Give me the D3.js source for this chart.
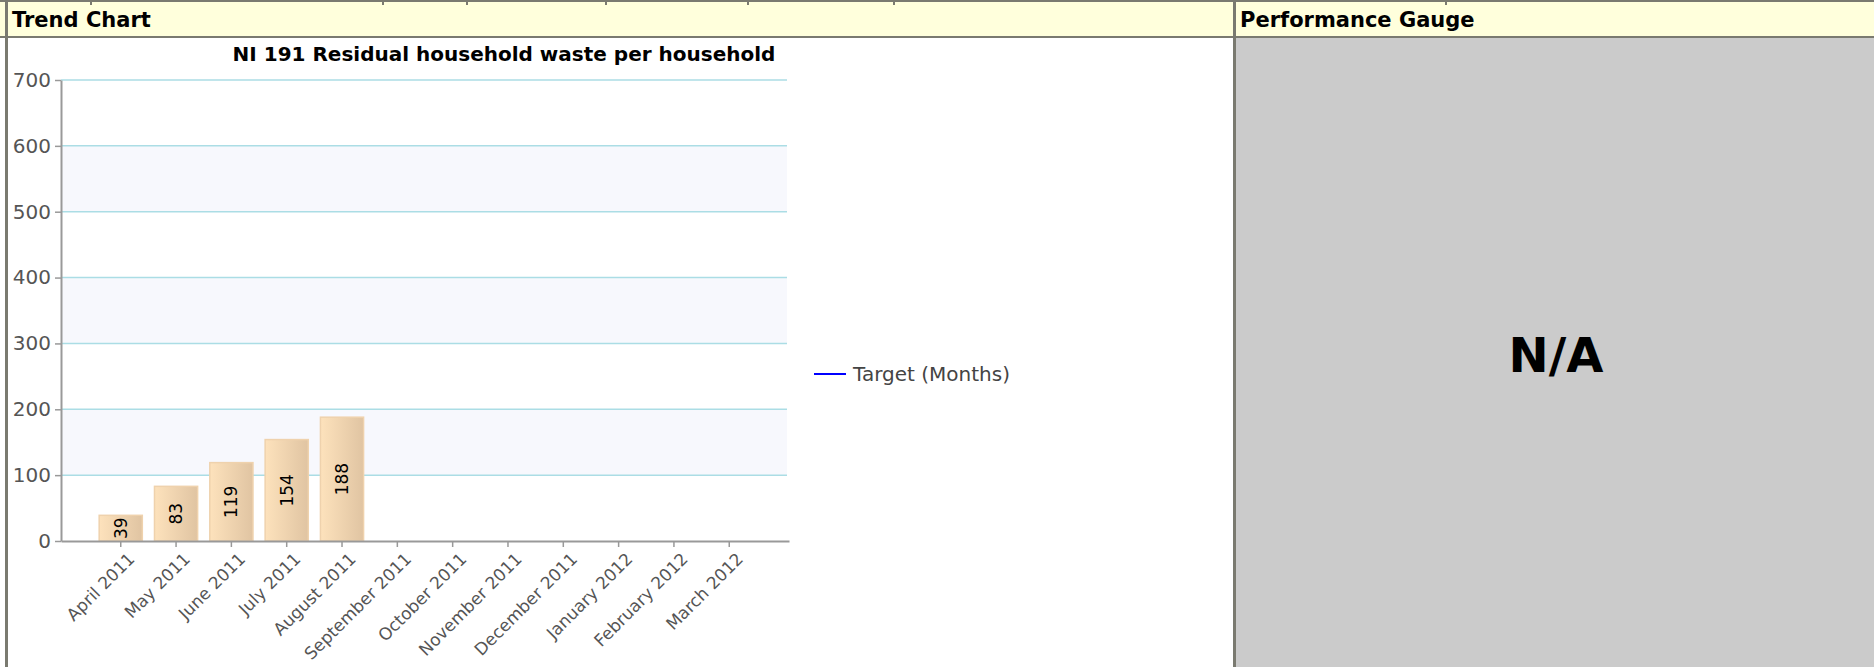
<!DOCTYPE html>
<html>
<head>
<meta charset="utf-8">
<script src="https://cdn.jsdelivr.net/npm/d3@7/dist/d3.min.js"></script>
<style>
  body { margin: 0; background: #fff; overflow: hidden; }
  svg { display: block; font-family: 'DejaVu Sans', Verdana, sans-serif; }
</style>
</head>
<body>
<svg id="page"></svg>
<script>
// data
var months = ['April 2011', 'May 2011', 'June 2011', 'July 2011', 'August 2011', 'September 2011',
  'October 2011', 'November 2011', 'December 2011', 'January 2012', 'February 2012', 'March 2012'];
var values = [39, 83, 119, 154, 188];
var yTicks = [0, 100, 200, 300, 400, 500, 600, 700];
var legendLabels = ['Target (Months)'];
var chartTitle = 'NI 191 Residual household waste per household';

var W = 1874, H = 667;
var border = '#7a7a70';

var svg = d3.select('#page').attr('width', W).attr('height', H);

// panel backgrounds
svg.append('rect').attr('x', 0).attr('y', 0).attr('width', W).attr('height', 37).attr('fill', '#ffffdc');
svg.append('rect').attr('x', 1236).attr('y', 38).attr('width', W - 1236).attr('height', H - 38).attr('fill', '#cbcbcb');

// borders
svg.append('rect').attr('x', 0).attr('y', 0).attr('width', W).attr('height', 2).attr('fill', border);
svg.append('rect').attr('x', 0).attr('y', 36).attr('width', W).attr('height', 2).attr('fill', border);
svg.append('rect').attr('x', 5).attr('y', 0).attr('width', 3).attr('height', H).attr('fill', border);
svg.append('rect').attr('x', 1233).attr('y', 0).attr('width', 3).attr('height', H).attr('fill', border);
// little cell marks from the row above
[90, 382, 466, 605, 747, 893, 1445].forEach(function (x) {
  svg.append('rect').attr('x', x).attr('y', 0).attr('width', 2).attr('height', 5).attr('fill', border);
});

svg.append('text').attr('x', 12).attr('y', 27).attr('font-size', 21).attr('font-weight', 'bold')
  .attr('fill', '#000').text('Trend Chart');
svg.append('text').attr('x', 1240).attr('y', 27).attr('font-size', 21).attr('font-weight', 'bold')
  .attr('fill', '#000').text('Performance Gauge');

svg.append('text').attr('x', 1556).attr('y', 355).attr('font-size', 48).attr('font-weight', 'bold')
  .attr('text-anchor', 'middle').attr('dominant-baseline', 'central').attr('fill', '#000')
  .text('N/A');

// ---- trend chart ----
var plotLeft = 61, plotRight = 789, plotTop = 80, plotBottom = 541, gridRight = 787;

var y = d3.scaleLinear().domain([0, 700]).range([plotBottom, plotTop]);
var x = d3.scaleBand().domain(months).range([plotLeft, plotRight]).paddingInner(0.22).paddingOuter(0.69);

var chart = svg.append('g');

// alternating bands
var bandPairs = [[100, 200], [300, 400], [500, 600]];
chart.selectAll('.band').data(bandPairs).enter().append('rect')
  .attr('x', plotLeft).attr('width', gridRight - plotLeft)
  .attr('y', function (d) { return y(d[1]); })
  .attr('height', function (d) { return y(d[0]) - y(d[1]); })
  .attr('fill', '#f7f8fd');

// gridlines
chart.selectAll('.grid').data(yTicks.slice(1)).enter().append('line')
  .attr('x1', plotLeft).attr('x2', gridRight)
  .attr('y1', function (d) { return y(d); }).attr('y2', function (d) { return y(d); })
  .attr('stroke', '#abdde5').attr('stroke-width', 1.5);

chart.append('text').attr('x', 504).attr('y', 61).attr('font-size', 20).attr('font-weight', 'bold')
  .attr('text-anchor', 'middle').attr('fill', '#000').text(chartTitle);

// bars
var defs = svg.append('defs');
var grad = defs.append('linearGradient').attr('id', 'barGrad').attr('x1', '0%').attr('x2', '100%');
grad.append('stop').attr('offset', '0%').attr('stop-color', '#fde2bc');
grad.append('stop').attr('offset', '100%').attr('stop-color', '#e0c4a2');

var barData = values.map(function (v, i) { return { m: months[i], v: v }; });

chart.selectAll('.bar').data(barData).enter().append('rect')
  .attr('x', function (d) { return x(d.m); })
  .attr('width', x.bandwidth())
  .attr('y', function (d) { return y(d.v); })
  .attr('height', function (d) { return y(0) - y(d.v); })
  .attr('fill', 'url(#barGrad)')
  .attr('stroke', '#efd2ad').attr('stroke-width', 1.5);

chart.selectAll('.blabel').data(barData).enter().append('text')
  .attr('transform', function (d) {
    return 'translate(' + (x(d.m) + x.bandwidth() / 2) + ',' + ((y(d.v) + y(0)) / 2) + ') rotate(-90)';
  })
  .attr('text-anchor', 'middle').attr('dominant-baseline', 'central')
  .attr('font-size', 17).attr('fill', '#000')
  .text(function (d) { return d.v; });

// y axis
var yAxis = chart.append('g').attr('transform', 'translate(' + plotLeft + ',0)')
  .call(d3.axisLeft(y).tickValues(yTicks).tickSize(6).tickSizeOuter(0).tickPadding(4));
yAxis.select('.domain').attr('stroke', '#999').attr('stroke-width', 2);
yAxis.selectAll('.tick line').attr('stroke', '#999').attr('stroke-width', 1.5);
yAxis.selectAll('.tick text').attr('fill', '#555').attr('font-size', 20)
  .attr('font-family', "'DejaVu Sans', Verdana, sans-serif");

// x axis
var xAxis = chart.append('g').attr('transform', 'translate(0,' + plotBottom + ')')
  .call(d3.axisBottom(x).tickSize(6).tickSizeOuter(0));
xAxis.select('.domain').attr('stroke', '#999').attr('stroke-width', 2);
xAxis.selectAll('.tick line').attr('stroke', '#999').attr('stroke-width', 1.5);
xAxis.selectAll('.tick text')
  .attr('fill', '#555').attr('font-size', 17)
  .attr('font-family', "'DejaVu Sans', Verdana, sans-serif")
  .attr('text-anchor', 'end')
  .attr('dy', null)
  .attr('transform', 'translate(15,19) rotate(-45)')
  .attr('y', 0).attr('x', 0);

// legend
var legend = chart.append('g').attr('transform', 'translate(814,374)');
legend.selectAll('line').data(legendLabels).enter().append('line')
  .attr('x1', 0).attr('x2', 32).attr('y1', 0).attr('y2', 0)
  .attr('stroke', '#0000ff').attr('stroke-width', 2);
legend.selectAll('text').data(legendLabels).enter().append('text')
  .attr('x', 39).attr('y', 0).attr('dominant-baseline', 'central')
  .attr('font-size', 20).attr('fill', '#444').text(function (d) { return d; });
</script>
</body>
</html>
